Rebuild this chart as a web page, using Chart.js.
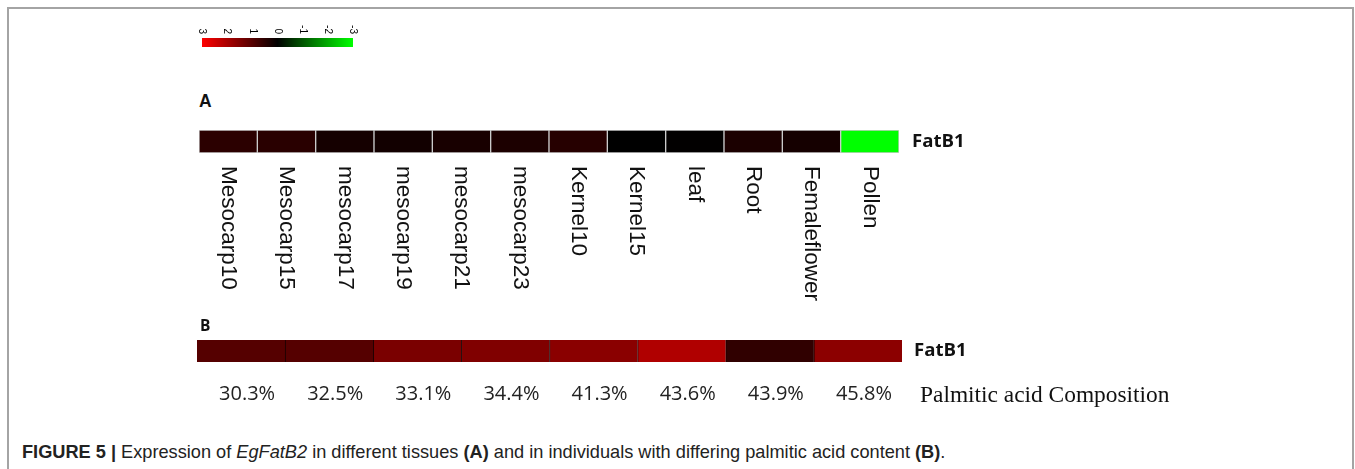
<!DOCTYPE html>
<html>
<head>
<meta charset="utf-8">
<script src="https://cdn.jsdelivr.net/npm/chart.js@4.4.0/dist/chart.umd.min.js"></script>
<style>
  body { margin: 0; background: #fff; width: 1355px; height: 469px; overflow: hidden; position: relative; }
  .frame { position: absolute; left: 7px; top: 7px; width: 1343px; height: 480px; border: 2px solid #a4a4a4; border-bottom: none; }
  canvas { position: absolute; }
  .panel { position: absolute; font-weight: bold; color: #111; line-height: 1; }
  .caption { position: absolute; left: 22px; top: 442px; font: 18.2px "Liberation Sans", Arial, sans-serif; color: #222; white-space: nowrap; }
</style>
</head>
<body>
<div class="frame"></div>
<canvas id="scaleBar" width="170" height="30" style="left:195px;top:18px"></canvas>
<div class="panel" style="left:199px;top:91px;font:bold 17.5px 'Liberation Sans', Arial, sans-serif">A</div>
<canvas id="tissueMap" width="800" height="200" style="left:190px;top:122px"></canvas>
<div class="panel" style="left:200px;top:314px;font:bold 15.5px 'Open Sans', sans-serif">B</div>
<canvas id="palmiticMap" width="1000" height="80" style="left:190px;top:332px"></canvas>
<div class="caption"><b>FIGURE 5 |</b> Expression of <i>EgFatB2</i> in different tissues <b>(A)</b> and in individuals with differing palmitic acid content <b>(B)</b>.</div>

<script>
// colour key ticks (log2 expression)
const scaleTicks = [3, 2, 1, 0, -1, -2, -3];

// panel A: tissues
const tissues = ['Mesocarp10', 'Mesocarp15', 'mesocarp17', 'mesocarp19', 'mesocarp21', 'mesocarp23',
                 'Kernel10', 'Kernel15', 'leaf', 'Root', 'Femaleflower', 'Pollen'];
const tissueExpr = [0.50, 0.48, 0.25, 0.21, 0.28, 0.33, 0.45, 0.00, 0.02, 0.32, 0.25, -3.00];

// panel B: individuals by palmitic acid content
const palmitic = ['30.3%', '32.5%', '33.1%', '34.4%', '41.3%', '43.6%', '43.9%', '45.8%'];
const palmiticExpr = [1.00, 1.00, 1.44, 1.51, 1.62, 2.07, 0.56, 1.65];

const geneName = 'FatB1';

// red (up) - black - green (down)
function heatColor(v) {
  v = Math.max(-3, Math.min(3, v));
  const c = Math.round(Math.abs(v) / 3 * 255);
  return v >= 0 ? `rgb(${c},0,0)` : `rgb(0,${c},0)`;
}

const rowText = {
  id: 'rowText',
  afterDraw(chart, args, opts) {
    const { ctx, chartArea: a } = chart;
    const x = chart.scales.x;
    ctx.save();
    ctx.fillStyle = '#111';
    if (opts.gene) {
      ctx.font = 'bold 18.6px "Open Sans"';
      ctx.textAlign = 'left';
      ctx.textBaseline = 'middle';
      ctx.fillText(opts.gene, a.right + opts.geneGap, (a.top + a.bottom) / 2);
    }
    if (opts.rotated) {
      // labels read top to bottom under each cell
      ctx.fillStyle = opts.rotatedColor || '#111';
      ctx.font = opts.rotatedFont;
      ctx.textAlign = opts.rotatedAlign;
      ctx.textBaseline = 'middle';
      opts.rotated.forEach((t, i) => {
        const px = x.getPixelForValue(opts.byValue ? t : i);
        ctx.save();
        ctx.translate(px, opts.rotatedY(a));
        ctx.rotate(Math.PI / 2);
        ctx.fillText(String(t), 0, 0);
        ctx.restore();
      });
    }
    if (opts.below) {
      ctx.fillStyle = '#222';
      ctx.font = '20px "Open Sans"';
      ctx.textAlign = 'center';
      ctx.textBaseline = 'middle';
      opts.below.forEach((t, i) => ctx.fillText(t, x.getPixelForValue(i) + 6, a.bottom + 32));
    }
    if (opts.note) {
      ctx.fillStyle = '#111';
      ctx.font = '23.4px "Liberation Serif"';
      ctx.textAlign = 'left';
      ctx.textBaseline = 'middle';
      ctx.fillText(opts.note, a.right + 18, a.bottom + 34);
    }
    ctx.restore();
  }
};

const common = {
  responsive: false,
  animation: false,
  events: [],
  plugins: { legend: { display: false }, tooltip: { enabled: false } }
};

// colour key
new Chart(document.getElementById('scaleBar'), {
  type: 'bar',
  plugins: [rowText],
  data: {
    labels: ['key'],
    datasets: [{
      data: [[scaleTicks[scaleTicks.length - 1], scaleTicks[0]]],
      barPercentage: 1,
      categoryPercentage: 1,
      borderWidth: 0,
      backgroundColor(c) {
        const { chart } = c;
        const a = chart.chartArea;
        const xs = chart.scales.x;
        if (!a || !xs) return '#000';
        const g = chart.ctx.createLinearGradient(a.left, 0, a.right, 0);
        scaleTicks.forEach(v => g.addColorStop((xs.getPixelForValue(v) - a.left) / (a.right - a.left), heatColor(v)));
        return g;
      }
    }]
  },
  options: {
    ...common,
    indexAxis: 'y',
    layout: { padding: { left: 7, right: 12, top: 20, bottom: 1 } },
    scales: {
      x: { type: 'linear', min: -3, max: 3, reverse: true, display: false },
      y: { display: false }
    },
    plugins: {
      ...common.plugins,
      rowText: {
        rotated: scaleTicks,
        byValue: true,
        rotatedColor: '#000',
        rotatedFont: '10px "Liberation Sans"',
        rotatedAlign: 'right',
        rotatedY: a => a.top - 4
      }
    }
  }
});

// panel A
new Chart(document.getElementById('tissueMap'), {
  type: 'bar',
  plugins: [rowText],
  data: {
    labels: tissues,
    datasets: [{
      data: tissues.map(() => 1),
      backgroundColor: tissueExpr.map(heatColor),
      borderColor: '#cbcbcb',
      borderWidth: 1,
      borderSkipped: false,
      barPercentage: 1,
      categoryPercentage: 1
    }]
  },
  options: {
    ...common,
    layout: { padding: { left: 9, right: 91, top: 8, bottom: 169 } },
    scales: {
      x: { display: false },
      y: { display: false, min: 0, max: 1 }
    },
    plugins: {
      ...common.plugins,
      rowText: {
        gene: geneName,
        geneGap: 13,
        rotated: tissues,
        rotatedFont: '22.5px "Liberation Sans"',
        rotatedAlign: 'left',
        rotatedY: a => a.bottom + 13
      }
    }
  }
});

// panel B
new Chart(document.getElementById('palmiticMap'), {
  type: 'bar',
  plugins: [rowText],
  data: {
    labels: palmitic,
    datasets: [{
      data: palmitic.map(() => 1),
      backgroundColor: palmiticExpr.map(heatColor),
      borderColor: '#1a0000',
      borderWidth: c => ({ left: c.dataIndex > 0 ? 1 : 0, right: 0, top: 0, bottom: 0 }),
      borderSkipped: false,
      barPercentage: 1,
      categoryPercentage: 1
    }]
  },
  options: {
    ...common,
    layout: { padding: { left: 7, right: 288, top: 8, bottom: 50 } },
    scales: {
      x: { display: false },
      y: { display: false, min: 0, max: 1 }
    },
    plugins: {
      ...common.plugins,
      rowText: {
        gene: geneName,
        geneGap: 12,
        below: palmitic,
        note: 'Palmitic acid Composition'
      }
    }
  }
});
</script>
</body>
</html>
